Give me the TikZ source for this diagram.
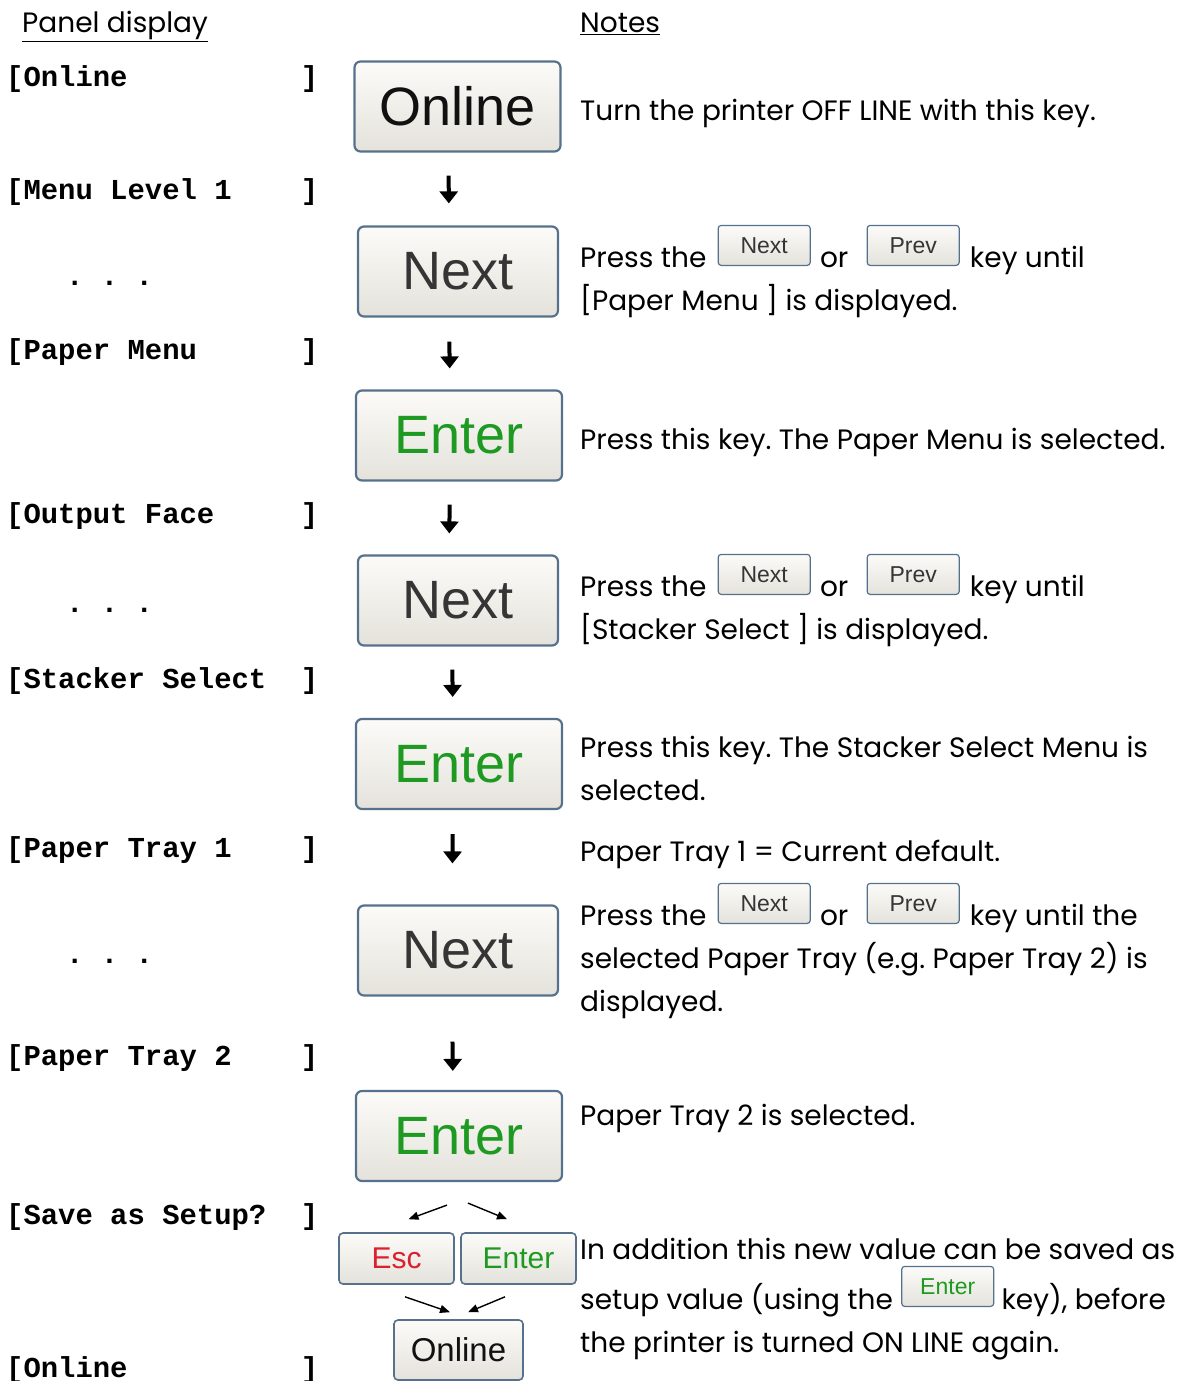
\documentclass[tikz,border=0pt]{standalone}
\usepackage{fontspec}
\usepackage{tikz}
\usetikzlibrary{arrows.meta, positioning, calc}
\newfontfamily\notefont{Poppins}
\newfontfamily\keyfont{Liberation Sans}
\newfontfamily\panelfont{Liberation Mono}
\definecolor{keyedge}{HTML}{56718C}
\definecolor{keytop}{HTML}{FCFBF8}
\definecolor{keybottom}{HTML}{E4E2DB}
\definecolor{keygreen}{HTML}{1E9A22}
\definecolor{keyred}{HTML}{DD1F2E}
\definecolor{keygray}{HTML}{353535}
\definecolor{keyblack}{HTML}{111111}
\frenchspacing
% panel line: text, padded to 17 mono cells, then the closing bracket
\newcommand{\paneltext}[1]{\makebox[10.2em][l]{#1}]}
\tikzset{
  key/.style={
    draw=keyedge, line width=2.2pt, rounded corners=6pt,
    top color=keytop, bottom color=keybottom, text=#1,
    font=\keyfont\fontsize{54}{54}\selectfont, inner sep=0pt,
    minimum width=206pt, minimum height=90pt
  },
  key/.default=keygray,
  smallkey/.style={
    key=#1, line width=1.6pt, rounded corners=4pt,
    font=\keyfont\fontsize{30}{30}\selectfont,
    minimum width=115pt, minimum height=51pt
  },
  smallkey/.default=keygray,
  inkey/.style={
    key=#1, line width=1.2pt, rounded corners=3pt,
    font=\keyfont\fontsize{23}{23}\selectfont,
    minimum width=92pt, minimum height=40pt, anchor=south west
  },
  inkey/.default=keygray,
  note/.style={font=\notefont\fontsize{28}{32}\selectfont, inner sep=0pt, anchor=base west},
  head/.style={font=\notefont\fontsize{28}{32}\selectfont, inner sep=0pt, anchor=base west},
  panel/.style={font=\panelfont\bfseries\fontsize{28.9}{30}\selectfont, inner sep=0pt, anchor=base west},
  downarrow/.style={-{Triangle[width=18pt, length=12pt]}, line width=4pt},
  diagarrow/.style={-{Triangle[width=8pt, length=10pt]}, line width=1.4pt}
}

\begin{document}
\begin{tikzpicture}[x=1pt, y=-1pt]
    \useasboundingbox (0,0) rectangle (1176,1381);

    % headings
    \node[head] (hpanel) at (22,33) {\underline{Panel display}};
    \node[head] (hnotes) at (580,33) {\underline{Notes}};

    % panel display
    \node[panel] (p1) at (6,86) {\paneltext{[Online}};
    \node[panel] (p2) at (6,199) {\paneltext{[Menu Level 1}};
    \node[panel] (d1) at (66,285) {. . .};
    \node[panel] (p3) at (6,359) {\paneltext{[Paper Menu}};
    \node[panel] (p4) at (6,523) {\paneltext{[Output Face}};
    \node[panel] (d2) at (66,612) {. . .};
    \node[panel] (p5) at (6,688) {\paneltext{[Stacker Select}};
    \node[panel] (p6) at (6,857) {\paneltext{[Paper Tray 1}};
    \node[panel] (d3) at (66,963) {. . .};
    \node[panel] (p7) at (6,1065) {\paneltext{[Paper Tray 2}};
    \node[panel] (p8) at (6,1224) {\paneltext{[Save as Setup?}};
    \node[panel] (p9) at (6,1377) {\paneltext{[Online}};

    % keys
    \node[key=keyblack] (b1) at (457.5,106.5) {Online};
    \node[key, minimum width=200pt] (b2) at (458,271.5) {Next};
    \node[key=keygreen] (b3) at (459,435.5) {Enter};
    \node[key, minimum width=200pt] (b4) at (458,600.5) {Next};
    \node[key=keygreen] (b5) at (459,764) {Enter};
    \node[key, minimum width=200pt] (b6) at (458,950.5) {Next};
    \node[key=keygreen] (b7) at (459,1136) {Enter};
    \node[smallkey=keyred] (esc) at (396.5,1258.5) {Esc};
    \node[smallkey=keygreen] (ent) at (518.5,1258.5) {Enter};
    \node[smallkey=keyblack, font=\keyfont\fontsize{33}{33}\selectfont,
          minimum width=129pt, minimum height=60pt] (onl) at (458.5,1350) {Online};

    \draw[downarrow, shorten <=23pt, shorten >=22pt] ([xshift=-9pt]b1.south) -- ([xshift=-9pt]b2.north);
    \draw[downarrow, shorten <=24pt, shorten >=21pt] ([xshift=-9pt]b2.south) -- ([xshift=-9pt]b3.north);
    \draw[downarrow, shorten <=23pt, shorten >=21pt] ([xshift=-9pt]b3.south) -- ([xshift=-9pt]b4.north);
    \draw[downarrow, shorten <=23pt, shorten >=21pt] ([xshift=-6pt]b4.south) -- ([xshift=-6pt]b5.north);
    \draw[downarrow, shorten <=24pt, shorten >=41pt] ([xshift=-6pt]b5.south) -- ([xshift=-6pt]b6.north);
    \draw[downarrow, shorten <=45pt, shorten >=19pt] ([xshift=-6pt]b6.south) -- ([xshift=-6pt]b7.north);
    \draw[diagarrow] ($(b7.south)+(-12,23)$) -- ($(esc.north)+(12,-13)$);
    \draw[diagarrow] ($(b7.south)+(9,21)$) -- ($(ent.north)+(-11.5,-13)$);
    \draw[diagarrow] ($(esc.south)+(8.5,12)$) -- ($(onl.north)+(-8.5,-7)$);
    \draw[diagarrow] ($(ent.south)+(-13.5,12)$) -- ($(onl.north)+(9.5,-7)$);

    % notes
    \node[note] (n1) at (580,120) {Turn the printer OFF LINE with this key.};

    \node[note] (n2a) at (580,267) {Press the};
    \node[inkey, xshift=11pt, yshift=1pt] (k2a) at (n2a.base east) {Next};
    \node[note, xshift=9pt] (n2b) at (k2a.east |- n2a.base) {or};
    \node[inkey, xshift=18pt, yshift=1pt] (k2b) at (n2b.base east) {Prev};
    \node[note, xshift=10pt] (n2c) at (k2b.east |- n2a.base) {key until};
    \node[note] (n2d) at (580,310) {[Paper Menu ] is displayed.};

    \node[note] (n3) at (580,449) {Press this key. The Paper Menu is selected.};

    \node[note] (n4a) at (580,596) {Press the};
    \node[inkey, xshift=11pt, yshift=1pt] (k4a) at (n4a.base east) {Next};
    \node[note, xshift=9pt] (n4b) at (k4a.east |- n4a.base) {or};
    \node[inkey, xshift=18pt, yshift=1pt] (k4b) at (n4b.base east) {Prev};
    \node[note, xshift=10pt] (n4c) at (k4b.east |- n4a.base) {key until};
    \node[note] (n4d) at (580,639) {[Stacker Select ] is displayed.};

    \node[note] (n5a) at (580,757) {Press this key. The Stacker Select Menu is};
    \node[note] (n5b) at (580,800) {selected.};

    \node[note] (n6) at (580,861) {Paper Tray 1 = Current default.};

    \node[note] (n7a) at (580,925) {Press the};
    \node[inkey, xshift=11pt, yshift=1pt] (k7a) at (n7a.base east) {Next};
    \node[note, xshift=9pt] (n7b) at (k7a.east |- n7a.base) {or};
    \node[inkey, xshift=18pt, yshift=1pt] (k7b) at (n7b.base east) {Prev};
    \node[note, xshift=10pt] (n7c) at (k7b.east |- n7a.base) {key until the};
    \node[note] (n7d) at (580,968) {selected Paper Tray (e.g. Paper Tray 2) is};
    \node[note] (n7e) at (580,1011) {displayed.};

    \node[note] (n8) at (580,1125) {Paper Tray 2 is selected.};

    \node[note] (n9a) at (580,1259) {In addition this new value can be saved as};
    \node[note] (n9b) at (580,1309) {setup value (using the};
    \node[inkey=keygreen, xshift=8pt, yshift=2pt] (k9) at (n9b.base east) {Enter};
    \node[note, xshift=7pt] (n9c) at (k9.east |- n9b.base) {key), before};
    \node[note] (n9d) at (580,1352) {the printer is turned ON LINE again.};
\end{tikzpicture}
\end{document}
